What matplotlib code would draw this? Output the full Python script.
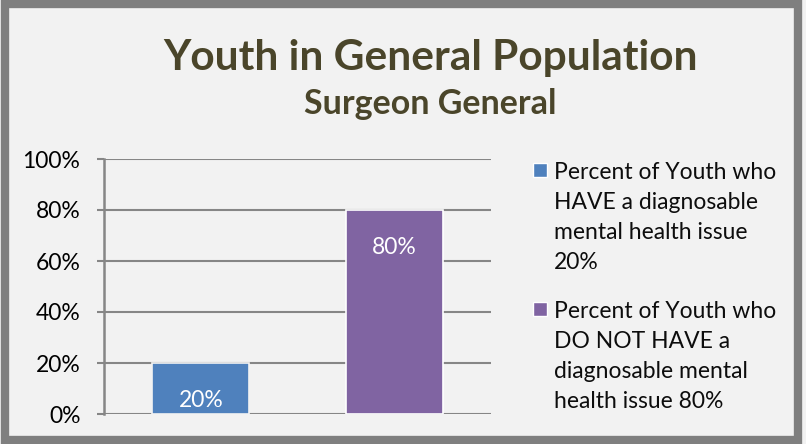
import matplotlib.pyplot as plt
from matplotlib.patches import Rectangle

# data
categories = ['HAVE', 'DO NOT HAVE']
values = [20, 80]
colors = ['#4F81BD', '#8064A2']
legend_labels = ['Percent of Youth who\nHAVE a diagnosable\nmental health issue\n20%',
                 'Percent of Youth who\nDO NOT HAVE a\ndiagnosable mental\nhealth issue 80%']
yticks = [0, 20, 40, 60, 80, 100]

plt.rcParams['font.family'] = ['Lato', 'DejaVu Sans']

fig = plt.figure(figsize=(8.06, 4.44), dpi=100)
fig.patch.set_facecolor('#F2F2F2')
# grey frame around the chart
fig.patches.append(Rectangle((0.006, 0.009), 0.984, 0.981, transform=fig.transFigure,
                             fill=False, edgecolor='#7F7F7F', linewidth=6))

ax = fig.add_axes([104/806, 1-414/444, (491-104)/806, (414-159)/444])
ax.set_facecolor('#F2F2F2')
x = range(len(values))
bars = ax.bar(x, values, width=0.5, color=colors, edgecolor=['#F2F2F2', 'white'],
              linewidth=1.2, zorder=3)
for i, v in enumerate(values):
    ax.annotate(f'{v}%', xy=(i, v), xytext=(0, -37), textcoords='offset pixels',
                ha='center', va='center', color='white', fontsize=16.5, zorder=4)

ax.set_xlim(-0.5, 1.5)
ax.set_ylim(0, 100)
ax.set_yticks(yticks)
ax.set_yticklabels([f'{t}%' for t in yticks], fontsize=16.5)
ax.set_xticks([])
ax.grid(axis='y', color='#868686', linewidth=1.5, zorder=0)
for s in ['top', 'right', 'bottom']:
    ax.spines[s].set_visible(False)
ax.spines['left'].set_color('#868686')
ax.spines['left'].set_linewidth(1.8)
ax.tick_params(axis='y', length=5, width=1.5, color='#868686', pad=12)

fig.text(431/806, 1-58/444, 'Youth in General Population', ha='center', va='center',
         fontsize=30.5, fontweight='bold', color='#4A452A')
fig.text(430/806, 1-104/444, 'Surgeon General', ha='center', va='center',
         fontsize=24.5, fontweight='bold', color='#4A452A')

# legend drawn by hand so the marker sits on the first text line
tops = [170, 309]
for c, lab, t in zip(colors, legend_labels, tops):
    fig.patches.append(Rectangle((533/806, 1-(t+7)/444), 14/806, 14/444,
                                 transform=fig.transFigure, facecolor=c,
                                 edgecolor='white', linewidth=1))
    fig.text(554/806, 1-(t-8)/444, lab, ha='left', va='top', fontsize=16.5,
             linespacing=1.53, color='#0D0D0D')

fig.savefig('out.png', dpi=100, facecolor=fig.get_facecolor())
